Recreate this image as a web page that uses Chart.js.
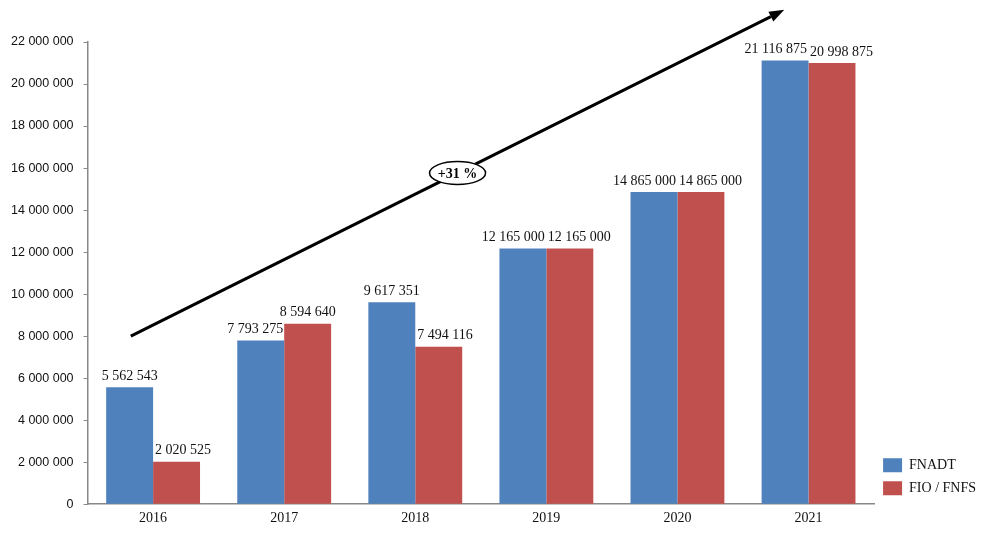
<!DOCTYPE html>
<html>
<head>
<meta charset="utf-8">
<script src="https://cdn.jsdelivr.net/npm/chart.js@4.4.1/dist/chart.umd.min.js"></script>
<style>
  html, body { margin: 0; padding: 0; background: #fff; }
  #wrap { width: 988px; height: 534px; }
</style>
</head>
<body>
<div id="wrap"><canvas id="myChart01"></canvas></div>
<script>
const years = ['2016', '2017', '2018', '2019', '2020', '2021'];
const fnadt = [5562543, 7793275, 9617351, 12165000, 14865000, 21116875];
const fioFnfs = [2020525, 8594640, 7494116, 12165000, 14865000, 20998875];
const yTicksMax = 22000000;
const yTicksStep = 2000000;
// trend arrow: [category index, value]
const arrowFrom = [-0.17, 8000000];
const arrowTo = [4.815, 23530000];
const arrowLabel = '+31 %';

function fmt(n) {
    return String(n).replace(/\B(?=(\d{3})+(?!\d))/g, ' ');
}

const serif = "'Liberation Serif', 'Times New Roman', serif";

// value labels above bars, moved sideways when they hit the other bar or label
const barLabels = {
    id: 'barLabels',
    afterDatasetsDraw(chart) {
        const ctx = chart.ctx;
        const m0 = chart.getDatasetMeta(0).data;
        const m1 = chart.getDatasetMeta(1).data;
        ctx.save();
        ctx.font = '14px ' + serif;
        ctx.fillStyle = '#111';
        ctx.textAlign = 'center';
        ctx.textBaseline = 'bottom';
        years.forEach((y, i) => {
            const a = m0[i], b = m1[i];
            const ta = fmt(fnadt[i]), tb = fmt(fioFnfs[i]);
            const wa = ctx.measureText(ta).width, wb = ctx.measureText(tb).width;
            let xa = a.x, xb = b.x;
            const ya = a.y - 4, yb = b.y - 4;
            // blue label sinks into red bar
            if (ya > b.y + 2) {
                const edge = b.x - b.width / 2 - 1;
                if (xa + wa / 2 > edge) xa = edge - wa / 2;
            }
            // red label sinks into blue bar
            if (yb > a.y + 2) {
                const edge = a.x + a.width / 2 + 2;
                if (xb - wb / 2 < edge) xb = edge + wb / 2;
            }
            if (Math.abs(ya - yb) < 15) {
                const overlap = (xa + wa / 2 + 3) - (xb - wb / 2);
                if (overlap > 0) { xa -= overlap / 2; xb += overlap / 2; }
            }
            ctx.fillText(ta, xa, ya);
            ctx.fillText(tb, xb, yb);
        });
        ctx.restore();
    }
};

const trendArrow = {
    id: 'trendArrow',
    afterDraw(chart) {
        const ctx = chart.ctx;
        const xs = chart.scales.x, ys = chart.scales.y;
        const x1 = xs.getPixelForValue(arrowFrom[0]), y1 = ys.getPixelForValue(arrowFrom[1]);
        const x2 = xs.getPixelForValue(arrowTo[0]), y2 = ys.getPixelForValue(arrowTo[1]);
        const ang = Math.atan2(y2 - y1, x2 - x1);
        const head = 15, hw = 5.5;
        ctx.save();
        ctx.strokeStyle = '#000';
        ctx.fillStyle = '#000';
        ctx.lineWidth = 3;
        ctx.beginPath();
        ctx.moveTo(x1, y1);
        ctx.lineTo(x2 - Math.cos(ang) * head, y2 - Math.sin(ang) * head);
        ctx.stroke();
        ctx.beginPath();
        ctx.moveTo(x2, y2);
        ctx.lineTo(x2 - Math.cos(ang) * head - Math.sin(ang) * hw, y2 - Math.sin(ang) * head + Math.cos(ang) * hw);
        ctx.lineTo(x2 - Math.cos(ang) * head + Math.sin(ang) * hw, y2 - Math.sin(ang) * head - Math.cos(ang) * hw);
        ctx.closePath();
        ctx.fill();
        // label ellipse at the middle
        const mx = (x1 + x2) / 2, my = (y1 + y2) / 2;
        ctx.beginPath();
        ctx.ellipse(mx, my, 28, 11.5, 0, 0, Math.PI * 2);
        ctx.fillStyle = '#fff';
        ctx.fill();
        ctx.lineWidth = 1.5;
        ctx.stroke();
        ctx.fillStyle = '#000';
        ctx.font = 'bold 14px ' + serif;
        ctx.textAlign = 'center';
        ctx.textBaseline = 'middle';
        ctx.fillText(arrowLabel, mx, my + 1);
        ctx.restore();
    }
};

const ctx01 = document.getElementById('myChart01').getContext('2d');
const myChart01 = new Chart(ctx01, {
    type: 'bar',
    data: {
        labels: years,
        datasets: [
            {
                label: 'FNADT',
                data: fnadt,
                backgroundColor: '#4F81BD',
                categoryPercentage: 0.716,
                barPercentage: 1
            },
            {
                label: 'FIO / FNFS',
                data: fioFnfs,
                backgroundColor: '#C0504D',
                categoryPercentage: 0.716,
                barPercentage: 1
            }
        ]
    },
    options: {
        responsive: true,
        maintainAspectRatio: false,
        animation: false,
        layout: {
            padding: { top: 42, left: 1, right: 2, bottom: 9 }
        },
        scales: {
            x: {
                grid: { display: false },
                border: { color: '#888', width: 1.5 },
                ticks: {
                    color: '#111',
                    padding: -2,
                    font: { size: 14, family: serif }
                }
            },
            y: {
                min: 0,
                max: yTicksMax,
                grid: {
                    display: true,
                    drawOnChartArea: false,
                    drawTicks: true,
                    tickLength: 4,
                    color: '#888'
                },
                border: { color: '#888', width: 1.5 },
                ticks: {
                    stepSize: yTicksStep,
                    color: '#111',
                    padding: 10,
                    font: { size: 12.5, family: "'Liberation Sans', Arial, sans-serif" },
                    callback: v => fmt(v)
                }
            }
        },
        plugins: {
            tooltip: { enabled: false },
            legend: {
                position: 'right',
                align: 'end',
                fullSize: false,
                labels: {
                    boxWidth: 19,
                    boxHeight: 14,
                    padding: 9,
                    color: '#111',
                    font: { size: 14, family: serif }
                }
            }
        }
    },
    plugins: [barLabels, trendArrow]
});
</script>
</body>
</html>
